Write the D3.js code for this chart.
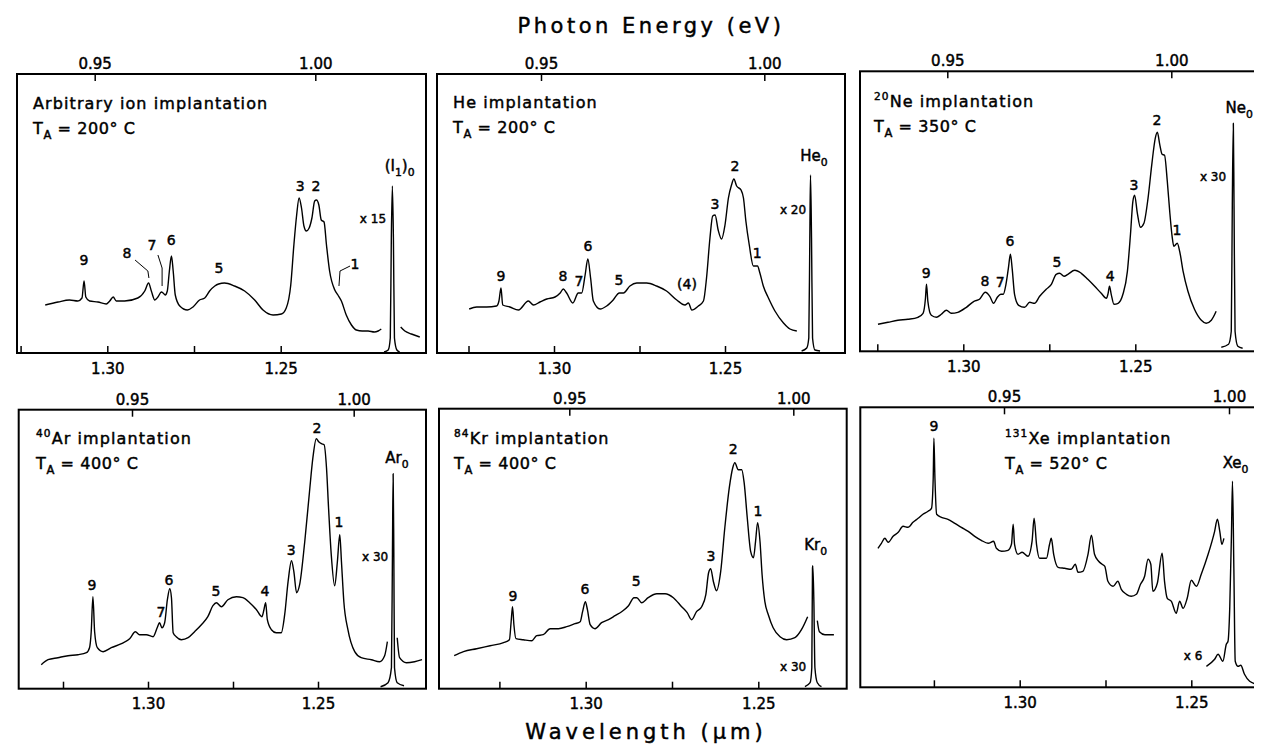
<script src="https://d3js.org/d3.v7.min.js"></script>

<style>
    text { stroke: black; stroke-width: 0.45px; }
</style>

<div id="canvas"></div>

<script>
    const width = 1262;
    const height = 744;

    // Tick values shared by all six panels
    const energyTicks = [0.95, 1.00];
    const wavelengthTicks = [1.325, 1.30, 1.275, 1.25];
    const wavelengthLabelled = [1.30, 1.25];

    const panelTitles = ["Arbitrary ion implantation", "He implantation", "^{20}Ne implantation",
        "^{40}Ar implantation", "^{84}Kr implantation", "^{131}Xe implantation"];
    const annealTemps = ["200", "200", "350", "400", "400", "520"];

    // Spectra: [wavelength (um), intensity (arb.)]
    const arbSpectrum = [[1.3179,48],[1.3142,51],[1.3109,53],[1.3085,52],[1.3073,55],[1.3067,72],[1.3062,56],[1.3051,52],
        [1.3027,51],[1.3003,49],[1.2993,52],[1.2983,56],[1.2974,52],[1.2950,52],[1.2912,55],[1.2892,62],[1.2881,70],
        [1.2873,62],[1.2863,53],[1.2854,56],[1.2844,61],[1.2839,60],[1.2833,58],[1.2827,62],[1.2821,82],[1.2815,97],
        [1.2810,82],[1.2804,58],[1.2791,47],[1.2769,43],[1.2753,46],[1.2734,53],[1.2719,55],[1.2705,62],[1.2690,67],
        [1.2679,69],[1.2662,70],[1.2633,67],[1.2604,62],[1.2575,53],[1.2551,43],[1.2522,38],[1.2498,39],[1.2484,45],
        [1.2471,68],[1.2462,108],[1.2454,138],[1.2447,155],[1.2440,145],[1.2433,127],[1.2426,122],[1.2418,125],
        [1.2410,135],[1.2402,152],[1.2397,153],[1.2390,148],[1.2383,133],[1.2375,131],[1.2368,108],[1.2359,82],
        [1.2344,63],[1.2335,58],[1.2325,52],[1.2311,38],[1.2296,28],[1.2282,23],[1.2265,22],[1.2248,22],[1.2230,21],
        [1.2219,22],[1.2210,24]];
    const arbLine = [[1.2202,1],[1.2190,3],[1.2184,15],[1.2181,115],[1.2178,167],[1.2175,115],[1.2172,15],[1.2165,3],[1.2157,1]];
    const arbTail = [[1.2154,26],[1.2142,22],[1.2123,19],[1.2099,16]];
    const arbPeaks = [["9",1.3067,93],["8",1.2943,100],["7",1.2871,108],["6",1.2816,113],["5",1.2678,85],
        ["3",1.2444,167],["2",1.2398,167],["1",1.2286,89]];
    const arbLeaders = [[[1.2920,93],[1.2883,82],[1.2880,75]], [[1.2854,98],[1.2842,85],[1.2842,67]],
        [[1.2300,87],[1.2329,82],[1.2332,67]]];
    const arbZero = ["(I_{1})_{0}", 1.2157, 182];
    const arbFactor = ["x 15", 1.2234, 134];

    const heSpectrum = [[1.3248,44],[1.3226,46],[1.3197,46],[1.3168,47],[1.3161,52],[1.3155,65],[1.3150,48],[1.3129,46],
        [1.3104,43],[1.3075,52],[1.3060,48],[1.3041,51],[1.3021,54],[1.2997,56],[1.2982,60],[1.2973,64],[1.2963,60],
        [1.2945,50],[1.2929,60],[1.2919,60],[1.2909,78],[1.2901,94],[1.2893,75],[1.2885,52],[1.2865,44],[1.2846,47],
        [1.2827,53],[1.2809,60],[1.2797,60],[1.2778,67],[1.2758,70],[1.2729,70],[1.2700,67],[1.2671,62],[1.2641,53],
        [1.2617,48],[1.2607,50],[1.2597,43],[1.2578,47],[1.2563,52],[1.2554,75],[1.2544,115],[1.2536,137],[1.2529,138],
        [1.2520,123],[1.2510,114],[1.2500,128],[1.2490,155],[1.2481,168],[1.2474,174],[1.2466,167],[1.2453,163],
        [1.2446,155],[1.2439,132],[1.2429,108],[1.2417,87],[1.2405,87],[1.2398,80],[1.2388,67],[1.2373,55],[1.2354,42],
        [1.2329,30],[1.2310,24],[1.2290,22]];
    const heLine = [[1.2276,2],[1.2261,5],[1.2255,15],[1.2252,115],[1.2250,178],[1.2247,115],[1.2244,15],[1.2237,3],[1.2222,2]];
    const hePeaks = [["9",1.3155,77],["8",1.2974,77],["7",1.2927,72],["6",1.2901,107],["5",1.2810,73],["(4)",1.2611,69],
        ["3",1.2529,149],["2",1.2471,187],["1",1.2406,100]];
    const heZero = ["He_{0}", 1.2240, 192];
    const heFactor = ["x 20", 1.2301, 143];

    const neSpectrum = [[1.3248,27],[1.3219,29],[1.3190,31],[1.3161,32],[1.3132,34],[1.3117,38],[1.3110,53],[1.3107,67],
        [1.3103,50],[1.3093,36],[1.3078,34],[1.3064,37],[1.3049,41],[1.3035,38],[1.3016,39],[1.2991,44],[1.2969,50],
        [1.2953,52],[1.2936,59],[1.2923,55],[1.2912,48],[1.2901,54],[1.2891,57],[1.2884,57],[1.2876,67],[1.2869,83],
        [1.2863,97],[1.2858,83],[1.2851,57],[1.2839,46],[1.2822,44],[1.2807,49],[1.2793,48],[1.2778,55],[1.2759,62],
        [1.2744,67],[1.2730,77],[1.2720,78],[1.2707,75],[1.2696,77],[1.2676,81],[1.2657,78],[1.2638,72],[1.2618,65],
        [1.2599,58],[1.2584,53],[1.2579,58],[1.2575,65],[1.2570,57],[1.2562,47],[1.2550,48],[1.2536,57],[1.2523,80],
        [1.2514,117],[1.2507,150],[1.2502,156],[1.2494,138],[1.2485,124],[1.2475,128],[1.2463,153],[1.2452,187],
        [1.2442,213],[1.2436,219],[1.2429,207],[1.2422,197],[1.2415,196],[1.2407,170],[1.2400,140],[1.2393,115],
        [1.2388,105],[1.2378,108],[1.2371,100],[1.2361,80],[1.2347,60],[1.2328,42],[1.2308,31],[1.2294,28],[1.2279,31],
        [1.2265,40]];
    const neLine = [[1.2250,4],[1.2229,7],[1.2221,20],[1.2218,147],[1.2215,228],[1.2213,147],[1.2210,20],[1.2202,5],[1.2188,3]];
    const nePeaks = [["9",1.3108,78],["8",1.2937,70],["7",1.2893,69],["6",1.2864,110],["5",1.2728,89],["4",1.2573,75],
        ["3",1.2504,166],["2",1.2437,231],["1",1.2379,121]];
    const neZero = ["Ne_{0}", 1.2198, 238];
    const neFactor = ["x 30", 1.2274, 175];

    const arSpectrum = [[1.3314,24],[1.3294,29],[1.3265,31],[1.3235,33],[1.3206,34],[1.3181,36],[1.3172,41],[1.3167,57],
        [1.3162,92],[1.3157,57],[1.3149,41],[1.3132,37],[1.3108,41],[1.3078,45],[1.3054,50],[1.3037,57],[1.3025,54],
        [1.3005,54],[1.2985,52],[1.2973,61],[1.2966,66],[1.2959,61],[1.2951,66],[1.2943,89],[1.2936,100],[1.2931,91],
        [1.2926,56],[1.2917,52],[1.2902,49],[1.2882,51],[1.2863,57],[1.2843,64],[1.2824,72],[1.2809,83],[1.2799,86],
        [1.2784,82],[1.2765,89],[1.2740,92],[1.2721,91],[1.2701,86],[1.2681,79],[1.2665,72],[1.2659,79],[1.2654,86],
        [1.2649,69],[1.2637,59],[1.2623,56],[1.2608,56],[1.2598,74],[1.2588,107],[1.2578,128],[1.2571,117],[1.2563,96],
        [1.2554,104],[1.2539,147],[1.2525,197],[1.2515,231],[1.2505,250],[1.2498,247],[1.2490,245],[1.2482,244],
        [1.2475,221],[1.2469,181],[1.2461,134],[1.2451,103],[1.2443,127],[1.2436,154],[1.2431,127],[1.2424,87],
        [1.2412,59],[1.2392,37],[1.2373,31],[1.2343,29],[1.2319,27],[1.2304,33],[1.2296,47]];
    const arLine = [[1.2316,2],[1.2294,6],[1.2284,21],[1.2281,137],[1.2279,215],[1.2277,137],[1.2275,21],[1.2267,6],[1.2247,3]];
    const arTail = [[1.2267,51],[1.2260,31],[1.2240,26],[1.2216,27],[1.2194,29]];
    const arPeaks = [["9",1.3165,104],["7",1.2962,77],["6",1.2938,109],["5",1.2800,98],["4",1.2656,98],
        ["3",1.2579,139],["2",1.2503,261],["1",1.2438,167]];
    const arZero = ["Ar_{0}", 1.2268, 226];
    const arFactor = ["x 30", 1.2332, 132];

    const krSpectrum = [[1.3381,33],[1.3354,37],[1.3316,40],[1.3277,43],[1.3238,46],[1.3221,49],[1.3216,67],[1.3212,82],
        [1.3208,64],[1.3202,50],[1.3181,49],[1.3156,48],[1.3142,53],[1.3123,54],[1.3103,60],[1.3079,60],[1.3055,62],
        [1.3031,65],[1.3016,67],[1.3009,77],[1.3001,87],[1.2995,79],[1.2987,64],[1.2973,60],[1.2954,66],[1.2934,69],
        [1.2915,73],[1.2896,77],[1.2876,83],[1.2860,91],[1.2852,91],[1.2838,86],[1.2819,91],[1.2794,95],[1.2770,95],
        [1.2746,91],[1.2722,82],[1.2706,76],[1.2693,69],[1.2679,77],[1.2664,82],[1.2652,94],[1.2644,116],[1.2638,120],
        [1.2630,107],[1.2621,98],[1.2609,117],[1.2597,161],[1.2584,201],[1.2574,221],[1.2568,226],[1.2558,219],
        [1.2548,219],[1.2541,206],[1.2532,171],[1.2522,137],[1.2514,131],[1.2508,147],[1.2502,166],[1.2495,147],
        [1.2489,114],[1.2481,87],[1.2471,74],[1.2457,61],[1.2437,52],[1.2418,49],[1.2394,51],[1.2375,59],[1.2357,72]];
    const krLine = [[1.2365,2],[1.2350,6],[1.2345,21],[1.2343,121],[1.2342,123],[1.2339,87],[1.2336,21],[1.2329,6],[1.2317,2]];
    const krTail = [[1.2329,68],[1.2323,57],[1.2307,54],[1.2281,54]];
    const krPeaks = [["9",1.3211,93],["6",1.3002,100],["5",1.2854,108],["3",1.2637,133],["2",1.2573,240],["1",1.2501,178]];
    const krZero = ["Kr_{0}", 1.2334, 139];
    const krFactor = ["x 30", 1.2399, 22];

    const xeSpectrum = [[1.3413,139],[1.3403,144],[1.3393,149],[1.3383,145],[1.3369,151],[1.3354,155],[1.3340,161],
        [1.3325,160],[1.3311,165],[1.3296,169],[1.3282,173],[1.3267,176],[1.3257,179],[1.3252,209],[1.3250,249],
        [1.3247,209],[1.3242,173],[1.3228,170],[1.3209,168],[1.3189,164],[1.3170,160],[1.3150,156],[1.3131,151],
        [1.3112,147],[1.3092,144],[1.3076,146],[1.3068,139],[1.3053,136],[1.3034,137],[1.3024,143],[1.3019,163],
        [1.3015,143],[1.3005,133],[1.2993,135],[1.2976,131],[1.2964,146],[1.2958,169],[1.2951,143],[1.2942,129],
        [1.2922,129],[1.2913,143],[1.2908,149],[1.2901,133],[1.2888,120],[1.2869,119],[1.2850,118],[1.2838,123],
        [1.2830,115],[1.2816,116],[1.2801,133],[1.2791,152],[1.2782,133],[1.2770,126],[1.2760,123],[1.2752,121],
        [1.2743,106],[1.2728,101],[1.2714,106],[1.2704,98],[1.2689,93],[1.2675,91],[1.2660,93],[1.2648,103],
        [1.2636,111],[1.2626,128],[1.2618,123],[1.2612,96],[1.2599,104],[1.2585,134],[1.2578,106],[1.2570,89],
        [1.2558,86],[1.2544,74],[1.2534,86],[1.2524,79],[1.2512,89],[1.2500,107],[1.2485,101],[1.2471,113],
        [1.2451,133],[1.2432,156],[1.2424,168],[1.2417,156],[1.2411,143],[1.2405,149]];
    const xeLine = [[1.2456,21],[1.2432,28],[1.2422,33],[1.2408,26],[1.2398,43],[1.2393,46],[1.2388,79],[1.2383,153],
        [1.2380,206],[1.2376,119],[1.2372,26],[1.2364,21],[1.2356,22],[1.2345,13],[1.2330,6],[1.2308,3]];
    const xePeaks = [["9",1.3250,261]];
    const xeZero = ["Xe_{0}", 1.2371, 219];
    const xeFactor = ["x 6", 1.2495, 32];

    // Panel frames and axis calibration (pixels)
    const panels = [
        {left: 9, right: 418, top: 66, bottom: 345, px130: 99.3, px125: 272.7, px095: 86.7, px100: 307.3, tx: 25, ty: 101,
            curves: [arbSpectrum, arbLine, arbTail], peaks: arbPeaks, leaders: arbLeaders, zero: arbZero, factor: arbFactor},
        {left: 429, right: 837, top: 66, bottom: 345, px130: 546, px125: 717, px095: 533, px100: 756.3, tx: 445, ty: 100,
            curves: [heSpectrum, heLine], peaks: hePeaks, leaders: [], zero: heZero, factor: heFactor},
        {left: 852, right: 1259, top: 63.3, bottom: 343.3, px130: 955.3, px125: 1127.3, px095: 939.3, px100: 1163.3, tx: 866, ty: 99,
            curves: [neSpectrum, neLine], peaks: nePeaks, leaders: [], zero: neZero, factor: neFactor},
        {left: 10.7, right: 418, top: 401.7, bottom: 680.7, px130: 140, px125: 310, px095: 124, px100: 345.7, tx: 28, ty: 436,
            curves: [arSpectrum, arLine, arTail], peaks: arPeaks, leaders: [], zero: arZero, factor: arFactor},
        {left: 431, right: 838.7, top: 400.7, bottom: 680.7, px130: 577.7, px125: 750.3, px095: 561.3, px100: 785.3, tx: 446, ty: 436,
            curves: [krSpectrum, krLine, krTail], peaks: krPeaks, leaders: [], zero: krZero, factor: krFactor},
        {left: 852.3, right: 1260, top: 399.3, bottom: 679.3, px130: 1011.7, px125: 1183.3, px095: 996, px100: 1221, tx: 997, ty: 436,
            curves: [xeSpectrum, xeLine], peaks: xePeaks, leaders: [], zero: xeZero, factor: xeFactor},
    ];

    const font = "DejaVu Sans, Liberation Sans, sans-serif";

    const svg = d3.select("#canvas")
        .append("svg")
        .attr("width", width)
        .attr("height", height)
        .style("background", "white")
        .attr("font-family", font);

    // Writes "_{x}" as subscript and "^{x}" as superscript tspans
    function richText(text, str, size) {
        const parts = str.split(/([_^]\{[^}]*\})/).filter(s => s.length);
        let shift = 0;
        parts.forEach(s => {
            let dy = 0, fs = size, t = s;
            if (s[0] === "_") {
                t = s.slice(2, -1); fs = size * 0.72; dy = size * 0.32;
            } else if (s[0] === "^") {
                t = s.slice(2, -1); fs = size * 0.66; dy = -size * 0.45;
            }
            text.append("tspan").attr("dy", dy - shift).attr("font-size", fs)
                .style("white-space", "pre").text(t);
            shift = dy;
        });
    }

    panels.forEach((p, i) => {
        const x = d3.scaleLinear().domain([1.30, 1.25]).range([p.px130, p.px125]);
        const xE = d3.scaleLinear().domain([0.95, 1.00]).range([p.px095, p.px100]);
        const y = d3.scaleLinear().domain([0, p.bottom - p.top]).range([p.bottom, p.top]);
        const g = svg.append("g");

        // Frame
        g.append("rect")
            .attr("x", p.left).attr("y", p.top)
            .attr("width", p.right - p.left).attr("height", p.bottom - p.top)
            .attr("fill", "none").attr("stroke", "black").attr("stroke-width", 2);

        // Bottom wavelength axis
        g.append("g")
            .attr("transform", `translate(0,${p.bottom})`)
            .call(d3.axisBottom(x).tickValues(wavelengthTicks).tickSize(-7).tickPadding(10)
                .tickFormat(d => wavelengthLabelled.includes(d) ? d.toFixed(2) : ""))
            .call(a => a.select(".domain").remove())
            .call(a => a.selectAll("line").attr("stroke-width", 1.5))
            .call(a => a.selectAll("text").attr("font-size", 15).attr("font-family", font));

        // Top energy axis
        g.append("g")
            .attr("transform", `translate(0,${p.top})`)
            .call(d3.axisTop(xE).tickValues(energyTicks).tickSize(-7).tickPadding(5)
                .tickFormat(d => d.toFixed(2)))
            .call(a => a.select(".domain").remove())
            .call(a => a.selectAll("line").attr("stroke-width", 1.5))
            .call(a => a.selectAll("text").attr("font-size", 15).attr("font-family", font));

        // Spectra
        const line = d3.line()
            .x(d => x(d[0]))
            .y(d => y(d[1]))
            .curve(d3.curveMonotoneX);

        g.selectAll("path.spec")
            .data(p.curves)
            .enter()
            .append("path")
            .attr("class", "spec")
            .attr("d", line)
            .attr("fill", "none")
            .attr("stroke", "black")
            .attr("stroke-width", 1.4)
            .attr("stroke-linejoin", "round");

        // Leader lines
        g.selectAll("path.leader")
            .data(p.leaders)
            .enter()
            .append("path")
            .attr("class", "leader")
            .attr("d", d3.line().x(d => x(d[0])).y(d => y(d[1])))
            .attr("fill", "none")
            .attr("stroke", "black")
            .attr("stroke-width", 1);

        // Peak numbers
        g.selectAll("text.peak")
            .data(p.peaks)
            .enter()
            .append("text")
            .attr("class", "peak")
            .attr("x", d => x(d[1]))
            .attr("y", d => y(d[2]))
            .attr("dy", "0.36em")
            .attr("text-anchor", "middle")
            .attr("font-size", 14)
            .text(d => d[0]);

        // Zero-phonon line name
        const zt = g.append("text")
            .attr("x", x(p.zero[1]))
            .attr("y", y(p.zero[2]))
            .attr("dy", 5)
            .attr("text-anchor", "middle");
        richText(zt, p.zero[0], 15);

        // Scaling factor
        g.append("text")
            .attr("x", x(p.factor[1]))
            .attr("y", y(p.factor[2]))
            .attr("dy", "0.36em")
            .attr("text-anchor", "middle")
            .attr("font-size", 12)
            .text(p.factor[0]);

        // Title and annealing temperature
        const t1 = g.append("text")
            .attr("x", p.tx).attr("y", p.ty)
            .attr("letter-spacing", 1.1);
        richText(t1, panelTitles[i], 16);

        const t2 = g.append("text")
            .attr("x", p.tx).attr("y", p.ty + 25)
            .attr("letter-spacing", 0.6);
        richText(t2, "T_{A} = " + annealTemps[i] + "° C", 16);
    });

    // Shared axis titles
    svg.append("text")
        .attr("x", 643).attr("y", 25)
        .attr("text-anchor", "middle")
        .attr("font-size", 21)
        .attr("letter-spacing", 3.5)
        .text("Photon Energy (eV)");

    svg.append("text")
        .attr("x", 638).attr("y", 731)
        .attr("text-anchor", "middle")
        .attr("font-size", 21)
        .attr("letter-spacing", 4)
        .text("Wavelength (μm)");
</script>
